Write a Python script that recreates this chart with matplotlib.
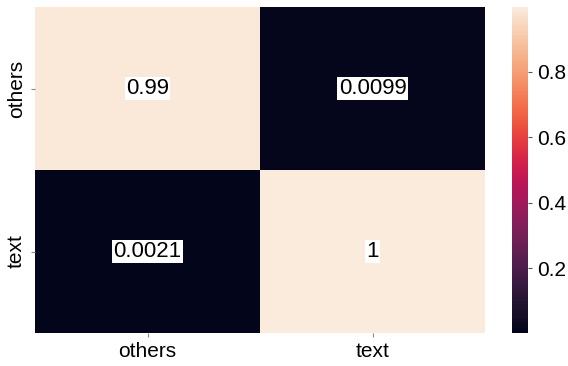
import numpy as np
import matplotlib
matplotlib.use("Agg")
import matplotlib.pyplot as plt
import seaborn as sns

labels = ["others", "text"]
cm = np.array([[0.99, 0.0099],
               [0.0021, 0.998]])

plt.rcParams['font.family'] = ['Liberation Sans', 'DejaVu Sans']

fig = plt.figure(figsize=(5.68, 3.66), dpi=100)
ax = fig.add_axes([35 / 568, 33 / 366, 450 / 568, 326 / 366])
cax = fig.add_axes([512 / 568, 33 / 366, 16 / 568, 326 / 366])

sns.heatmap(cm, annot=True, ax=ax, cbar_ax=cax, cmap="rocket",
            xticklabels=labels, yticklabels=labels,
            annot_kws={"size": 16, "color": "black",
                       "bbox": dict(facecolor="white", edgecolor="none", pad=1)})

ax.tick_params(axis="both", labelsize=15, length=3, color="#888888")
ax.set_yticklabels(labels, rotation=90, va="center")
cax.tick_params(labelsize=15, length=3, color="#555555")
cax.set_yticks([0.2, 0.4, 0.6, 0.8])

fig.savefig("out.png", dpi=100)
